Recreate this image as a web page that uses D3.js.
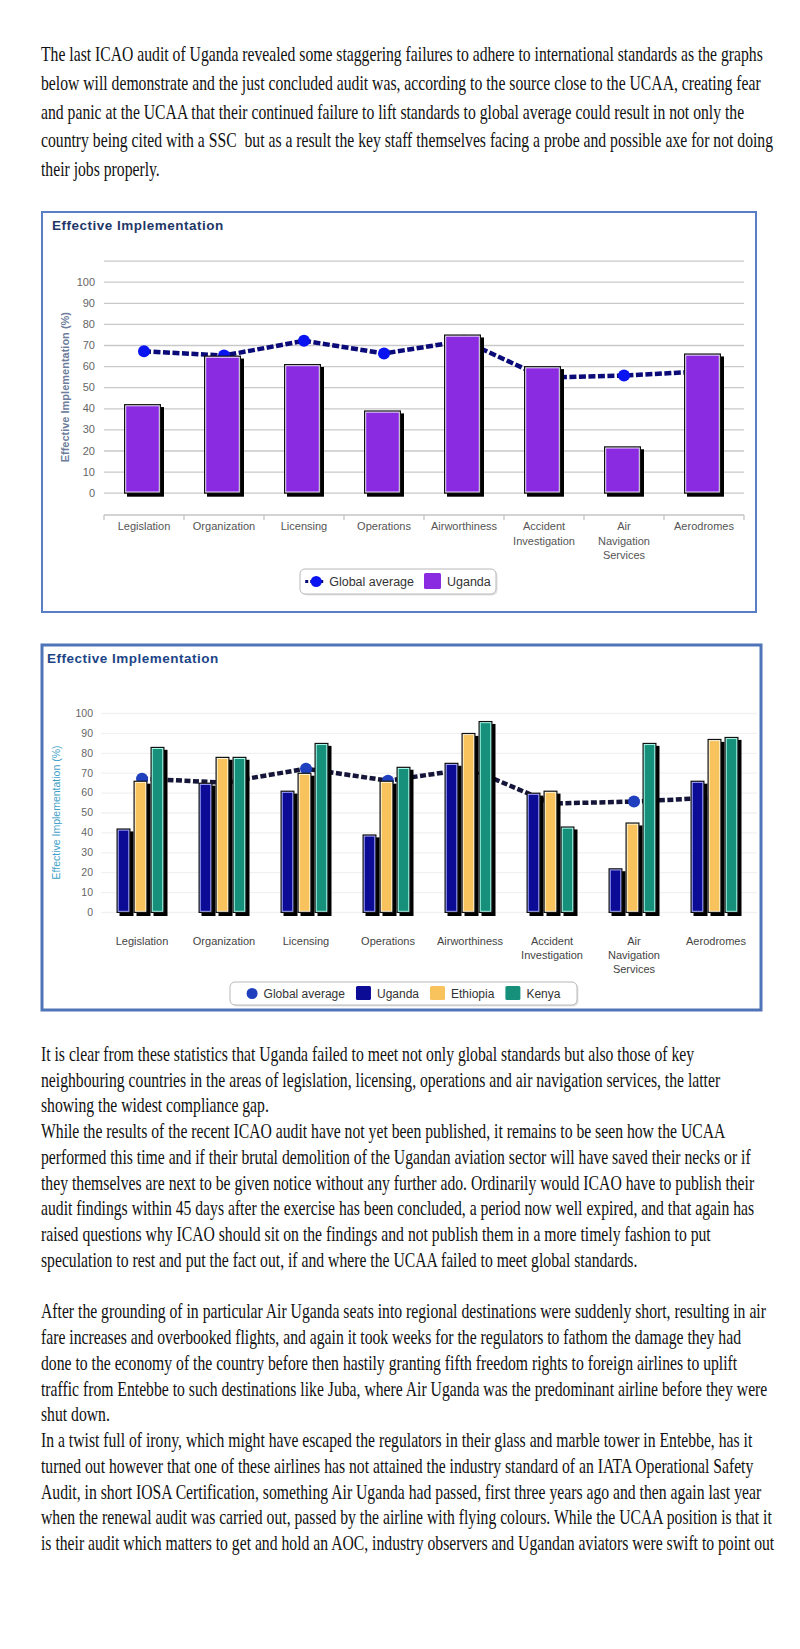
<!DOCTYPE html>
<html><head><meta charset="utf-8">
<script src="https://cdn.jsdelivr.net/npm/d3@7"></script>
<style>body{margin:0;background:#fff;} svg{display:block;}</style>
</head><body>
<svg id="page" width="800" height="1649"></svg>
<script>
// ---------- DATA ----------
const categories = ["Legislation","Organization","Licensing","Operations","Airworthiness","Accident Investigation","Air Navigation Services","Aerodromes"];
const globalAverage = [67, 65, 72, 66, 72, 54.5, 55.5, 57.5];
const uganda   = [42, 65, 61, 39, 75, 60, 22, 66];
const ethiopia = [66, 78, 70, 66, 90, 61, 45, 87];
const kenya    = [83, 78, 85, 73, 96, 43, 85, 88];
const yTickLabels = [0,10,20,30,40,50,60,70,80,90,100];
const gridValues1 = [0,10,20,30,40,50,60,70,80,90,100,110];
const chartTitle = "Effective Implementation";
const yAxisTitle = "Effective Implementation (%)";
const legend1 = ["Global average","Uganda"];
const legend2 = ["Global average","Uganda","Ethiopia","Kenya"];

const paragraph1 = [
"The last ICAO audit of Uganda revealed some staggering failures to adhere to international standards as the graphs",
"below will demonstrate and the just concluded audit was, according to the source close to the UCAA, creating fear",
"and panic at the UCAA that their continued failure to lift standards to global average could result in not only the",
"country being cited with a SSC  but as a result the key staff themselves facing a probe and possible axe for not doing",
"their jobs properly."
];
const paragraph2 = [
"It is clear from these statistics that Uganda failed to meet not only global standards but also those of key",
"neighbouring countries in the areas of legislation, licensing, operations and air navigation services, the latter",
"showing the widest compliance gap.",
"While the results of the recent ICAO audit have not yet been published, it remains to be seen how the UCAA",
"performed this time and if their brutal demolition of the Ugandan aviation sector will have saved their necks or if",
"they themselves are next to be given notice without any further ado. Ordinarily would ICAO have to publish their",
"audit findings within 45 days after the exercise has been concluded, a period now well expired, and that again has",
"raised questions why ICAO should sit on the findings and not publish them in a more timely fashion to put",
"speculation to rest and put the fact out, if and where the UCAA failed to meet global standards.",
"",
"After the grounding of in particular Air Uganda seats into regional destinations were suddenly short, resulting in air",
"fare increases and overbooked flights, and again it took weeks for the regulators to fathom the damage they had",
"done to the economy of the country before then hastily granting fifth freedom rights to foreign airlines to uplift",
"traffic from Entebbe to such destinations like Juba, where Air Uganda was the predominant airline before they were",
"shut down.",
"In a twist full of irony, which might have escaped the regulators in their glass and marble tower in Entebbe, has it",
"turned out however that one of these airlines has not attained the industry standard of an IATA Operational Safety",
"Audit, in short IOSA Certification, something Air Uganda had passed, first three years ago and then again last year",
"when the renewal audit was carried out, passed by the airline with flying colours. While the UCAA position is that it",
"is their audit which matters to get and hold an AOC, industry observers and Ugandan aviators were swift to point out"
];

// ---------- PAGE ----------
const svg = d3.select("#page");
svg.append("rect").attr("width",800).attr("height",1649).attr("fill","#fff");
const SANS = "'Liberation Sans', Arial, sans-serif";
const SERIF = "'Liberation Serif', 'Times New Roman', serif";

function drawParagraph(lines, top, step) {
  const g = svg.append("g");
  g.selectAll("text").data(lines).join("text")
    .attr("x", 0).attr("y", (d,i) => top + i*step)
    .attr("font-family", SERIF).attr("font-size", 20.5).attr("fill", "#111")
    .attr("xml:space","preserve")
    .text(d => d);
  return g;
}
const p1 = drawParagraph(paragraph1, 61.5, 28.6);
const p2 = drawParagraph(paragraph2, 1061, 25.75);
// horizontal condensing to match the scanned text face
const natural = p1.select("text").node().getComputedTextLength();
const sx = 722 / natural;
p1.attr("transform", `translate(41,0) scale(${sx},1)`);
p2.attr("transform", `translate(41,0) scale(${sx},1)`);

// ---------- CHART ----------
function drawChart(cfg) {
  const g = svg.append("g");
  g.append("rect").attr("x",cfg.box[0]).attr("y",cfg.box[1]).attr("width",cfg.box[2]).attr("height",cfg.box[3])
    .attr("fill","#fff").attr("stroke",cfg.frameColor).attr("stroke-width",cfg.frameWidth);
  g.append("text").attr("x",cfg.titlePos[0]).attr("y",cfg.titlePos[1])
    .attr("font-family",SANS).attr("font-weight","bold").attr("font-size",13.5)
    .attr("fill",cfg.titleColor).attr("letter-spacing",0.5).text(chartTitle);

  const x = d3.scaleBand().domain(categories).range(cfg.xRange);
  const y = d3.scaleLinear().domain([0,100]).range(cfg.yRange);
  const bw = x.bandwidth();

  g.append("g").attr("transform",`translate(${cfg.xRange[0]},0)`)
    .call(d3.axisLeft(y).tickValues(cfg.gridValues).tickSize(-(cfg.xRange[1]-cfg.xRange[0])).tickFormat(""))
    .call(a => a.select(".domain").remove())
    .call(a => a.selectAll("line").attr("stroke",cfg.gridColor).attr("stroke-width",1.3));

  g.append("g").attr("transform",`translate(${cfg.yLabelX},0)`)
    .call(d3.axisLeft(y).tickValues(yTickLabels).tickSize(0).tickPadding(0))
    .call(a => a.select(".domain").remove())
    .call(a => a.selectAll("text").attr("font-family",SANS).attr("font-size",cfg.tickFont).attr("fill",cfg.tickColor));

  const ym = (y(0)+y(100))/2;
  g.append("text").attr("transform",`translate(${cfg.yTitleX},${ym}) rotate(-90)`)
    .attr("text-anchor","middle").attr("font-family",SANS).attr("font-size",cfg.yTitleFont)
    .attr("font-weight",cfg.yTitleWeight).attr("fill",cfg.yTitleColor).text(yAxisTitle);

  if (cfg.xAxisY) {
    g.append("line").attr("x1",cfg.xRange[0]).attr("x2",cfg.xRange[1]).attr("y1",cfg.xAxisY).attr("y2",cfg.xAxisY)
      .attr("stroke","#c4c4c4").attr("stroke-width",1.3);
    const bounds = categories.map(c => x(c)).concat([cfg.xRange[1]]);
    g.selectAll("line.bt").data(bounds).join("line").attr("class","bt")
      .attr("x1",d=>d).attr("x2",d=>d).attr("y1",cfg.xAxisY).attr("y2",cfg.xAxisY+5)
      .attr("stroke","#c4c4c4").attr("stroke-width",1.3);
  }

  g.selectAll("text.cat").data(categories).join("text").attr("class","cat")
    .attr("text-anchor","middle").attr("font-family",SANS).attr("font-size",cfg.catFont).attr("fill",cfg.catColor)
    .each(function(d){
      const words = d.split(" ");
      d3.select(this).selectAll("tspan").data(words).join("tspan")
        .attr("x", x(d)+bw/2).attr("y",(w,i)=>cfg.catY + i*cfg.catStep).text(w=>w);
    });

  const line = d3.line().x((d,i)=>x(categories[i])+bw/2).y(d=>y(d));
  g.append("path").datum(globalAverage).attr("d",line).attr("fill","none")
    .attr("stroke",cfg.lineColor).attr("stroke-width",4.5).attr("stroke-dasharray",cfg.dash);
  g.selectAll("circle.ga").data(globalAverage).join("circle").attr("class","ga")
    .attr("cx",(d,i)=>x(categories[i])+bw/2).attr("cy",d=>y(d)).attr("r",cfg.dotR).attr("fill",cfg.dotColor);

  const bottom = y(0) + 1;
  cfg.series.forEach((s, si) => {
    const bars = g.selectAll(`g.s${si}`).data(s.values).join("g").attr("class",`s${si}`)
      .attr("transform",(d,i)=>`translate(${x(categories[i])+bw/2+cfg.barOffsets[si]},${y(d)})`);
    const h = d => bottom - y(d);
    const W = cfg.barW;
    bars.append("rect").attr("x",3).attr("y",3).attr("width",W).attr("height",h).attr("fill","#000");
    bars.append("rect").attr("x",0).attr("y",0).attr("width",W).attr("height",h).attr("fill","#111");
    bars.append("rect").attr("x",1.2).attr("y",1.2).attr("width",W-2.4).attr("height",d=>h(d)-2.4).attr("fill",s.inner);
    bars.append("rect").attr("x",2.2).attr("y",2.2).attr("width",W-4.4).attr("height",d=>h(d)-4.4).attr("fill",s.color);
  });

  const L = cfg.legend;
  const lg = g.append("g");
  lg.append("rect").attr("x",L.box[0]+1.5).attr("y",L.box[1]+1.5).attr("width",L.box[2]).attr("height",L.box[3])
    .attr("rx",5).attr("fill","#e4e4e4");
  lg.append("rect").attr("x",L.box[0]).attr("y",L.box[1]).attr("width",L.box[2]).attr("height",L.box[3])
    .attr("rx",5).attr("fill","#fff").attr("stroke","#b8b8b8").attr("stroke-width",1);
  const cy = L.box[1] + L.box[3]/2;
  const tmp = lg.append("text").attr("font-family",SANS).attr("font-size",L.font);
  const widths = L.labels.map(t => { tmp.text(t); return tmp.node().getComputedTextLength(); });
  tmp.remove();
  const items = L.labels.map((t,i)=>({label:t, w:widths[i], marker: i===0 ? L.dotW : L.sq}));
  let total = 0;
  items.forEach((it,i)=>{ total += it.marker + L.gapM + it.w + (i<items.length-1 ? L.gapI : 0); });
  let cx = L.box[0] + L.box[2]/2 - total/2;
  items.forEach((it,i)=>{
    if (i===0) {
      if (L.stub) lg.append("line").attr("x1",cx).attr("x2",cx+it.marker).attr("y1",cy).attr("y2",cy)
        .attr("stroke",cfg.lineColor).attr("stroke-width",3).attr("stroke-dasharray","3 2");
      lg.append("circle").attr("cx",cx+it.marker/2+(L.stub?2:0)).attr("cy",cy).attr("r",L.dotR).attr("fill",cfg.dotColor);
    } else {
      const s = cfg.series[i-1];
      lg.append("rect").attr("x",cx).attr("y",cy-L.sq/2).attr("width",L.sq).attr("height",L.sq-1)
        .attr("rx",1.5).attr("fill",s.color);
    }
    cx += it.marker + L.gapM;
    lg.append("text").attr("x",cx).attr("y",cy+4.3).attr("font-family",SANS).attr("font-size",L.font)
      .attr("fill","#333").text(it.label);
    cx += it.w + L.gapI;
  });
}

drawChart({
  box:[42,212,714,400], frameColor:"#5a7ec6", frameWidth:2,
  titlePos:[52,230], titleColor:"#1f3768",
  xRange:[104,744], yRange:[492.7,281.7], gridValues:gridValues1, gridColor:"#c9c9c9",
  yLabelX:95, tickFont:11, tickColor:"#666",
  yTitleX:69, yTitleFont:11, yTitleWeight:"bold", yTitleColor:"#6d7d9b",
  xAxisY:515, catY:530, catStep:14.5, catFont:11, catColor:"#555",
  lineColor:"#0a0a78", dash:"7 2.5", dotR:6, dotColor:"#0a14f0",
  barW:37, barOffsets:[-20],
  series:[{values:uganda, color:"#8a2be2", inner:"#efe4ff"}],
  legend:{box:[300,569,196,25], labels:legend1, font:12.5, dotW:18, dotR:5.5, sq:17, gapM:6, gapI:10, stub:true}
});

drawChart({
  box:[42,645,719,365], frameColor:"#4f74b8", frameWidth:3,
  titlePos:[47,663], titleColor:"#1c4587",
  xRange:[101,757], yRange:[912,713], gridValues:yTickLabels, gridColor:"#f1f1f1",
  yLabelX:93, tickFont:10.5, tickColor:"#666",
  yTitleX:60, yTitleFont:10.5, yTitleWeight:"normal", yTitleColor:"#3e9fc9",
  xAxisY:null, catY:945, catStep:14, catFont:11, catColor:"#444",
  lineColor:"#15153a", dash:"6 2.5", dotR:6, dotColor:"#1f3fbf",
  barW:14, barOffsets:[-25.5,-8.5,8.5],
  series:[{values:uganda, color:"#0b0b96", inner:"#a8acff"},
          {values:ethiopia, color:"#f8c35c", inner:"#fff6dc"},
          {values:kenya, color:"#16907a", inner:"#b0fff0"}],
  legend:{box:[230,982,347,23], labels:legend2, font:12, dotW:11, dotR:5.5, sq:15, gapM:6, gapI:11, stub:false}
});
</script>
</body></html>
